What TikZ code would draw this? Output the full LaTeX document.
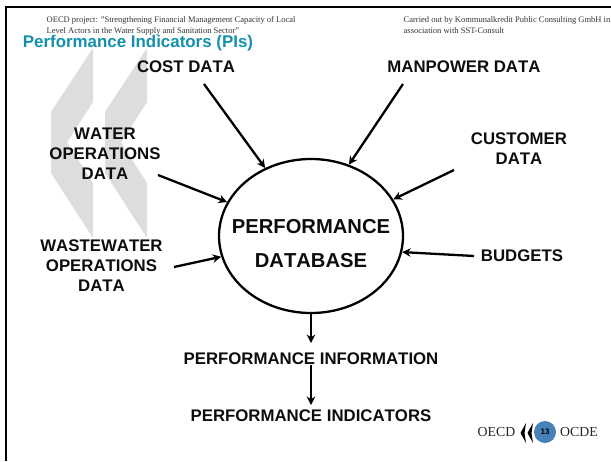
\documentclass[tikz,border=0pt]{standalone}
\usepackage{fontspec}
\setmainfont{Liberation Serif}
\setsansfont[Kerning=Off]{Liberation Sans}
\usetikzlibrary{arrows.meta,shapes.geometric}
\definecolor{titleteal}{HTML}{1390AD}
\definecolor{chevgray}{HTML}{DDDDDD}
\definecolor{badgeblue}{HTML}{4682B9}
\tikzset{
  label text/.style={font=\sffamily\bfseries\fontsize{16.8}{20}\selectfont,align=center,inner sep=0pt,text=black!95},
  big text/.style={font=\sffamily\bfseries\fontsize{20.2}{34}\selectfont,align=center,inner sep=0pt,text=black!95},
  head text/.style={font=\fontsize{8.5}{11}\selectfont,align=left,anchor=north west,inner sep=0pt,text=black!80},
  foot text/.style={font=\fontsize{13.8}{15}\selectfont,inner sep=0pt,text=black!85},
  conn/.style={line width=2.3pt,-{Stealth[length=8.5pt,width=8.5pt]},black},
  chevron/.style={fill=chevgray,draw=none}
}
\begin{document}
\begin{tikzpicture}[x=1pt,y=-1pt]
\useasboundingbox (0,0) rectangle (611,461);
% frame
\draw[line width=2pt,black] (6,461) -- (6,7) -- (611,7);
% background chevrons
\foreach \dx in {0,54}{
  \fill[chevron] (93+\dx,48) -- (51+\dx,112) -- (51+\dx,173) -- (93+\dx,238) -- (93+\dx,183) -- (67+\dx,142.5) -- (93+\dx,102) -- cycle;
}
% headers
\node[head text] (head1) at (46.5,16.5) {OECD project: "Strengthening Financial Management Capacity of Local\\Level Actors in the Water Supply and Sanitation Sector"};
\node[head text] (head2) at (403.5,16.5) {Carried out by Kommunalkredit Public Consulting GmbH in\\association with SST-Consult};
\node[font=\sffamily\bfseries\fontsize{16.9}{20}\selectfont,text=titleteal,inner sep=0pt] (title) at (138,43.5) {Performance Indicators (PIs)};
% database
\node[draw,ellipse,line width=2.3pt,inner sep=0pt,minimum width=184pt,minimum height=154pt] (db) at (311,236) {};
\node[big text] (dbtext) at (311,243.5) {PERFORMANCE\\DATABASE};
% labels
\node[label text] (cost) at (186,67) {COST DATA};
\node[label text] (manpower) at (464,67) {MANPOWER DATA};
\node[label text] (water) at (105,154) {WATER\\OPERATIONS\\DATA};
\node[label text] (customer) at (519,149) {CUSTOMER\\DATA};
\node[label text] (wastewater) at (101.5,266) {WASTEWATER\\OPERATIONS\\DATA};
\node[label text] (budgets) at (522,256) {BUDGETS};
\node[label text] (info) at (311,359) {PERFORMANCE INFORMATION};
\node[label text] (indicators) at (311,415.5) {PERFORMANCE INDICATORS};
% free ends of connectors
\coordinate (costS) at (204,84);
\coordinate (manS) at (403,84);
\coordinate (custS) at (454,170);
\coordinate (budS) at (474,256);
\coordinate (watS) at (158,175);
\coordinate (wasS) at (174,267);
\coordinate (infoIn) at (311,343);
\coordinate (infoOut) at (311,365);
\coordinate (indIn) at (311,405);
% connectors
\draw[conn] (costS) -- (db.124.5);
\draw[conn] (manS) -- (db.62);
\draw[conn] (custS) -- (db.24);
\draw[conn] (budS) -- (db.-10);
\draw[conn] (watS) -- (db.158);
\draw[conn] (wasS) -- (db.193.5);
\draw[conn] (db.south) -- (infoIn);
\draw[conn] (infoOut) -- (indIn);
% footer
\node[foot text] (oecd) at (496.5,432) {OECD};
\node[foot text] (ocde) at (579,432) {OCDE};
\foreach \dx in {0,7}{
  \fill[black] (526+\dx,423) -- (520.5+\dx,433) -- (526+\dx,443) -- (524.5+\dx,433) -- cycle;
}
\node[circle,fill=badgeblue,minimum size=22pt,inner sep=0pt,font=\sffamily\bfseries\fontsize{8}{9}\selectfont,text=black] (badge) at (545,432) {13};
\end{tikzpicture}
\end{document}
